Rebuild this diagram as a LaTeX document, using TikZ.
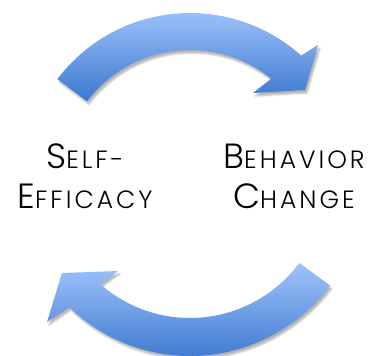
\documentclass[tikz,border=0pt]{standalone}
\usepackage{fontspec}
\usetikzlibrary{calc, shadows.blur}
\newfontfamily\cyclefont[LetterSpace=12]{Poppins Light}
\definecolor{arrowlight}{RGB}{160,196,252}
\definecolor{arrowdark}{RGB}{60,120,206}
% first letter large, the rest as small capitals
\newcommand\scword[2]{{\fontsize{35}{40}\selectfont #1}{\fontsize{25}{40}\selectfont #2}}

\begin{document}
\begin{tikzpicture}[
        x=1pt, y=1pt,
        arrowbody/.style={top color=arrowlight, bottom color=arrowdark, draw=none,
            blur shadow={shadow xshift=2pt, shadow yshift=-3pt, shadow blur steps=6, shadow opacity=30}},
        cyclelabel/.style={align=center, font=\cyclefont\fontsize{25}{40}\selectfont, inner sep=0pt},
    ]
    \useasboundingbox (0,0) rectangle (373,356);

    % ===== Upper arrow (left to right) =====
    \coordinate (TC) at (190,177);
    \path[arrowbody] ($(TC)+(143:166)$) arc[start angle=143, end angle=48, radius=166]
        -- (318,311) -- (305,266) -- (253,263)
        -- ($(TC)+(51:129)$) arc[start angle=51, end angle=143, radius=129] -- cycle;

    % ===== Lower arrow (right to left) =====
    \coordinate (BC) at (190,174);
    \path[arrowbody] ($(BC)+(-36.5:174)$) arc[start angle=-36.5, end angle=-134, radius=174]
        -- (47,34) -- (62,83) -- (118,85)
        -- ($(BC)+(-131.4:136)$) arc[start angle=-131.4, end angle=-36.5, radius=136] -- cycle;

    % ===== Labels =====
    \node[cyclelabel] (SE) at (85,180) {\scword{S}{ELF-}\\\scword{E}{FFICACY}};
    \node[cyclelabel] (BH) at (294,180) {\scword{B}{EHAVIOR}\\\scword{C}{HANGE}};

\end{tikzpicture}
\end{document}
